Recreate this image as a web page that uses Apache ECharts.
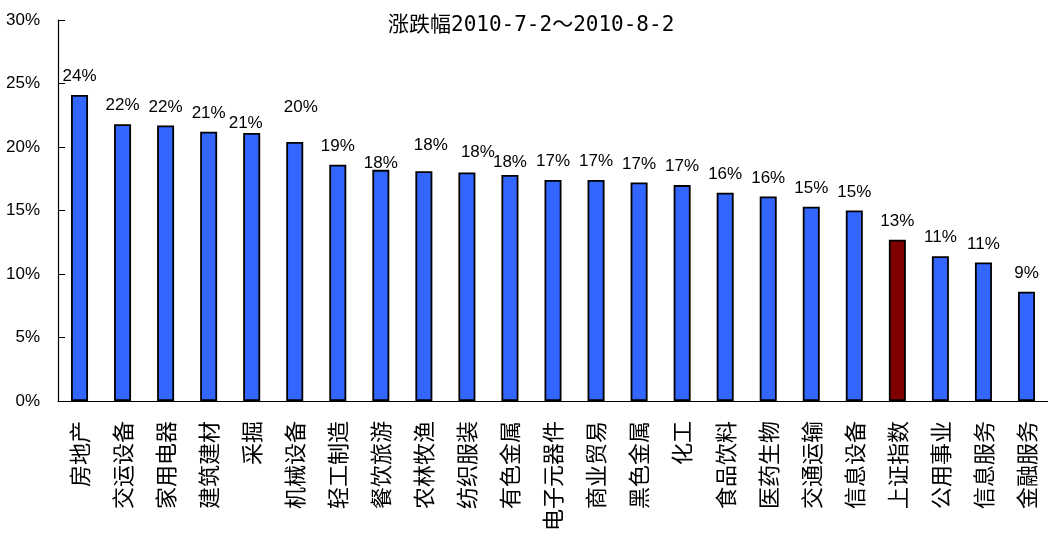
<!DOCTYPE html>
<html>
<head>
<meta charset="utf-8">
<script src="https://cdn.jsdelivr.net/npm/echarts@6/dist/echarts.min.js"></script>
<style>
  html, body { margin: 0; padding: 0; background: #ffffff; }
  #chart { width: 1048px; height: 534px; }
</style>
</head>
<body>
<div id="chart"></div>
<script>
// Sector price change, 2010-7-2 to 2010-8-2 (percent)
const categories = ['房地产', '交运设备', '家用电器', '建筑建材', '采掘', '机械设备', '轻工制造', '餐饮旅游',
  '农林牧渔', '纺织服装', '有色金属', '电子元器件', '商业贸易', '黑色金属', '化工', '食品饮料',
  '医药生物', '交通运输', '信息设备', '上证指数', '公用事业', '信息服务', '金融服务'];
const changePct = [24.1, 21.8, 21.7, 21.2, 21.1, 20.4, 18.6, 18.2, 18.1, 18.0, 17.8, 17.4, 17.4, 17.2,
  17.0, 16.4, 16.1, 15.3, 15.0, 12.7, 11.4, 10.9, 8.6];
const benchmark = '上证指数';
const yTickValues = [0, 5, 10, 15, 20, 25, 30];

// Hand-placed value labels that sit off the usual spot: [dx, dy] in pixels
const labelNudges = {
  '采掘': [-6, 9],
  '机械设备': [6, -16],
  '餐饮旅游': [0, 12],
  '农林牧渔': [7, -7],
  '纺织服装': [11, -2],
  '有色金属': [0, 6]
};

const BLUE = '#3366FF';
const MAROON = '#800000';
const LATIN = "'Liberation Sans', Arial, sans-serif";
const CJK = "'Noto Sans CJK SC', sans-serif";

const barData = categories.map((name, i) => {
  const item = { value: changePct[i] };
  if (name === benchmark) item.itemStyle = { color: MAROON };
  if (labelNudges[name]) item.label = { offset: labelNudges[name] };
  return item;
});

const chart = echarts.init(document.getElementById('chart'), null, { renderer: 'canvas' });
chart.setOption({
  backgroundColor: '#ffffff',
  animation: false,
  title: {
    text: '涨跌幅2010-7-2～2010-8-2',
    left: 383,
    top: 10,
    textStyle: {
      fontFamily: "'DejaVu Sans Mono', 'Noto Sans CJK SC', monospace",
      fontSize: 21,
      fontWeight: 'normal',
      color: '#000'
    }
  },
  grid: { left: 58, top: 20, width: 999, height: 382, containLabel: false },
  xAxis: {
    type: 'category',
    data: categories,
    axisLine: { lineStyle: { color: '#000', width: 1.2 } },
    axisTick: { inside: true, length: 6, lineStyle: { color: '#000' } },
    axisLabel: {
      interval: 0,
      rotate: 90,
      margin: 20,
      fontSize: 22,
      fontFamily: CJK,
      color: '#000'
    },
    splitLine: { show: false }
  },
  yAxis: {
    type: 'value',
    min: yTickValues[0],
    max: yTickValues[yTickValues.length - 1],
    interval: 5,
    axisLine: { show: true, lineStyle: { color: '#000', width: 1.2 } },
    axisTick: { show: true, inside: true, length: 7, lineStyle: { color: '#000' } },
    axisLabel: {
      formatter: '{value}%',
      margin: 18,
      fontSize: 17,
      fontFamily: LATIN,
      color: '#000',
      padding: [7, 0, 0, 0]
    },
    splitLine: { show: false }
  },
  series: [{
    type: 'bar',
    data: barData,
    barWidth: 17,
    itemStyle: { color: BLUE, borderColor: '#000', borderWidth: 1.8 },
    label: {
      show: true,
      position: 'top',
      distance: 10,
      formatter: p => Math.round(p.value) + '%',
      fontSize: 17,
      fontFamily: LATIN,
      color: '#000'
    }
  }]
});
</script>
</body>
</html>
